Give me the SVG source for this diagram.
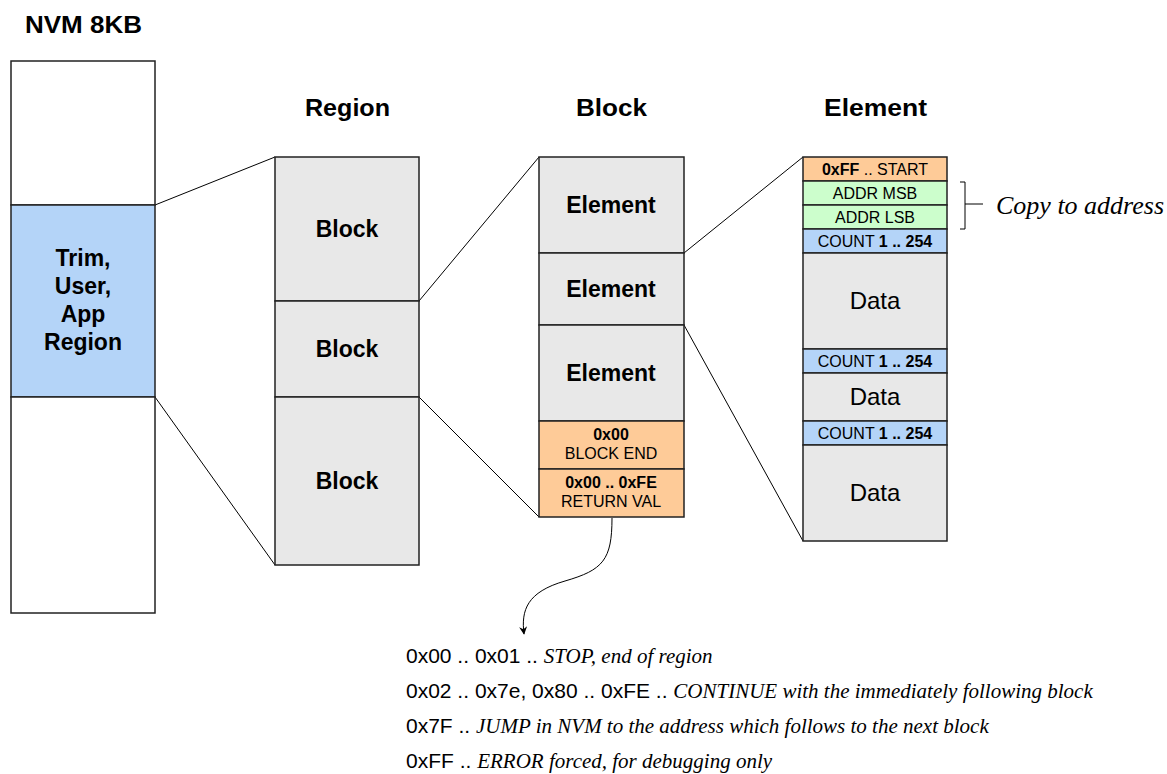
<svg xmlns="http://www.w3.org/2000/svg" width="1167" height="774" viewBox="0 0 1167 774">
<style>
.box{stroke:#222;stroke-width:1.5}
.w{fill:#fff}.b{fill:#b4d4f8}.g{fill:#e8e8e8}.o{fill:#fecb98}.gr{fill:#ccfecc}
.h{font-family:"Liberation Sans",Arial,sans-serif;font-weight:bold;font-size:23px;fill:#000}
.lb{font-family:"Liberation Sans",Arial,sans-serif;font-weight:bold;font-size:23px;fill:#000;text-anchor:middle}
.d{font-family:"Liberation Sans",Arial,sans-serif;font-size:24px;fill:#000;text-anchor:middle}
.s{font-family:"Liberation Sans",Arial,sans-serif;font-size:16px;fill:#000;text-anchor:middle}
.bo{font-weight:bold}
.t{font-family:"Liberation Sans",Arial,sans-serif;font-size:21px;fill:#000}
.i{font-family:"Liberation Serif","Times New Roman",serif;font-style:italic}
.cn{stroke:#000;stroke-width:1;fill:none}
</style>
<defs>
<marker id="arr" viewBox="0 0 10 10" refX="9" refY="5" markerWidth="8" markerHeight="8" orient="auto" markerUnits="userSpaceOnUse">
<path d="M0,0 L10,5 L0,10 L3,5 z" fill="#000"/>
</marker>
</defs>
<text class="h" x="25" y="33" textLength="117" lengthAdjust="spacingAndGlyphs">NVM 8KB</text>
<text class="h" x="305" y="116" textLength="85" lengthAdjust="spacingAndGlyphs">Region</text>
<text class="h" x="576" y="116" textLength="71" lengthAdjust="spacingAndGlyphs">Block</text>
<text class="h" x="824" y="116" textLength="103" lengthAdjust="spacingAndGlyphs">Element</text>
<g id="connectors">
<line class="cn" x1="155" y1="205" x2="275" y2="157"/>
<line class="cn" x1="155" y1="397" x2="275" y2="565"/>
<line class="cn" x1="419" y1="301" x2="539" y2="157"/>
<line class="cn" x1="419" y1="397" x2="539" y2="517"/>
<line class="cn" x1="684" y1="253" x2="803" y2="157"/>
<line class="cn" x1="684" y1="325" x2="803" y2="541"/>
<path class="cn" d="M612,518 C612,560 603,570 565,581 C527,592 521,610 524,634" marker-end="url(#arr)"/>
<path class="cn" d="M960,182 H965 V229 H960 M965,204 H983"/>
</g>
<g id="nvm">
<rect class="box w" x="11" y="61" width="144" height="144"/>
<rect class="box b" x="11" y="205" width="144" height="192"/>
<rect class="box w" x="11" y="397" width="144" height="216"/>
<text class="lb" x="83" y="266">Trim,</text>
<text class="lb" x="83" y="294">User,</text>
<text class="lb" x="83" y="322">App</text>
<text class="lb" x="83" y="350">Region</text>
</g>
<g id="region">
<rect class="box g" x="275" y="157" width="144" height="144"/>
<rect class="box g" x="275" y="301" width="144" height="96"/>
<rect class="box g" x="275" y="397" width="144" height="168"/>
<text class="lb" x="347" y="237">Block</text>
<text class="lb" x="347" y="357">Block</text>
<text class="lb" x="347" y="489">Block</text>
</g>
<g id="block">
<rect class="box g" x="539" y="157" width="145" height="96"/>
<rect class="box g" x="539" y="253" width="145" height="72"/>
<rect class="box g" x="539" y="325" width="145" height="96"/>
<rect class="box o" x="539" y="421" width="145" height="48"/>
<rect class="box o" x="539" y="469" width="145" height="48"/>
<text class="lb" x="611" y="213">Element</text>
<text class="lb" x="611" y="297">Element</text>
<text class="lb" x="611" y="381">Element</text>
<text class="s bo" x="611" y="440">0x00</text>
<text class="s" x="611" y="459">BLOCK END</text>
<text class="s bo" x="611" y="488">0x00 .. 0xFE</text>
<text class="s" x="611" y="507">RETURN VAL</text>
</g>
<g id="element">
<rect class="box o" x="803" y="157" width="144" height="24"/>
<rect class="box gr" x="803" y="181" width="144" height="24"/>
<rect class="box gr" x="803" y="205" width="144" height="24"/>
<rect class="box b" x="803" y="229" width="144" height="24"/>
<rect class="box g" x="803" y="253" width="144" height="96"/>
<rect class="box b" x="803" y="349" width="144" height="24"/>
<rect class="box g" x="803" y="373" width="144" height="48"/>
<rect class="box b" x="803" y="421" width="144" height="24"/>
<rect class="box g" x="803" y="445" width="144" height="96"/>
<text class="s" x="875" y="175"><tspan class="bo">0xFF</tspan> .. START</text>
<text class="s" x="875" y="199">ADDR MSB</text>
<text class="s" x="875" y="223">ADDR LSB</text>
<text class="s" x="875" y="247">COUNT <tspan class="bo">1 .. 254</tspan></text>
<text class="d" x="875" y="309">Data</text>
<text class="s" x="875" y="367">COUNT <tspan class="bo">1 .. 254</tspan></text>
<text class="d" x="875" y="405">Data</text>
<text class="s" x="875" y="439">COUNT <tspan class="bo">1 .. 254</tspan></text>
<text class="d" x="875" y="501">Data</text>
</g>
<text x="996" y="214" font-family="Liberation Serif, Times New Roman, serif" font-style="italic" font-size="26">Copy to address</text>
<g id="legend">
<text class="t" x="406" y="663">0x00 .. 0x01 .. <tspan class="i">STOP, end of region</tspan></text>
<text class="t" x="406" y="698">0x02 .. 0x7e, 0x80 .. 0xFE .. <tspan class="i">CONTINUE with the immediately following block</tspan></text>
<text class="t" x="406" y="733">0x7F .. <tspan class="i">JUMP in NVM to the address which follows to the next block</tspan></text>
<text class="t" x="406" y="768">0xFF .. <tspan class="i">ERROR forced, for debugging only</tspan></text>
</g>
</svg>
